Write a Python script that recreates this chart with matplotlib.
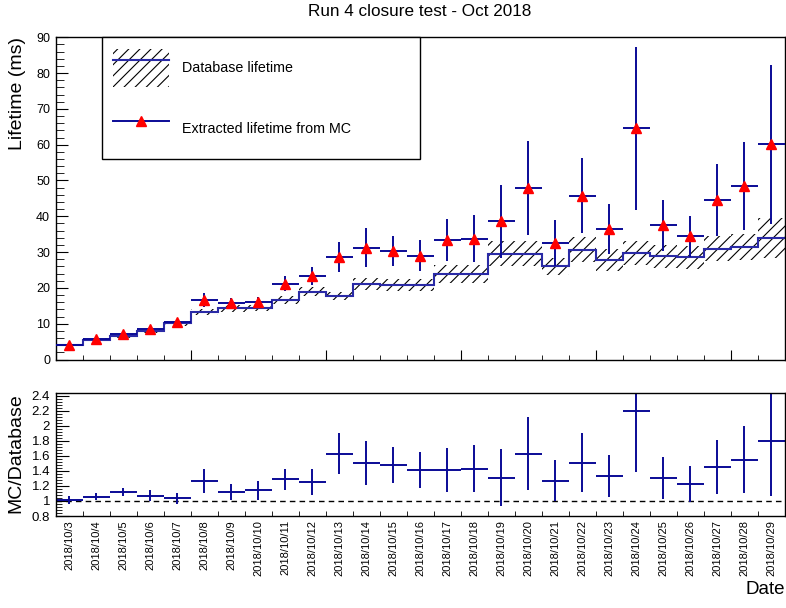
import numpy as np
import matplotlib
matplotlib.use('Agg')
import matplotlib.pyplot as plt
from matplotlib.patches import Patch
from matplotlib.lines import Line2D
from matplotlib.ticker import MultipleLocator, FuncFormatter

plt.rcParams['font.family'] = ['Liberation Sans', 'DejaVu Sans']
plt.rcParams['hatch.linewidth'] = 0.8
plt.rcParams['axes.linewidth'] = 1.0

# one bin per day
dates = ['2018/10/3', '2018/10/4', '2018/10/5', '2018/10/6', '2018/10/7',
         '2018/10/8', '2018/10/9', '2018/10/10', '2018/10/11', '2018/10/12',
         '2018/10/13', '2018/10/14', '2018/10/15', '2018/10/16', '2018/10/17',
         '2018/10/18', '2018/10/19', '2018/10/20', '2018/10/21', '2018/10/22',
         '2018/10/23', '2018/10/24', '2018/10/25', '2018/10/26', '2018/10/27',
         '2018/10/28', '2018/10/29']

# database lifetime (ms) and its uncertainty
db_lifetime = [4.05, 5.5, 6.5, 8.05, 10.1, 13.35, 14.3, 14.4, 16.6, 18.9,
               17.7, 21.0, 20.9, 20.8, 24.0, 23.8, 29.6, 29.6, 26.0, 30.7,
               27.8, 29.8, 28.8, 28.5, 31.0, 31.4, 34.0]
db_error = [0.3, 0.4, 0.5, 0.6, 0.7, 0.8, 0.9, 0.9, 1.0, 1.3,
            1.2, 1.7, 1.7, 1.7, 2.5, 2.5, 3.6, 3.6, 2.3, 3.4,
            3.1, 3.4, 3.3, 3.2, 3.4, 3.6, 5.6]

# lifetime extracted from MC (ms)
mc_lifetime = [4.0, 5.6, 7.0, 8.4, 10.4, 16.7, 15.9, 16.0, 21.2, 23.3,
               28.6, 31.2, 30.3, 29.0, 33.4, 33.7, 38.6, 47.9, 32.6, 45.8,
               36.5, 64.6, 37.5, 34.4, 44.6, 48.5, 60.1]
mc_error = [0.2, 0.25, 0.3, 0.4, 0.5, 2.0, 1.2, 1.4, 2.1, 2.55,
            4.1, 5.5, 4.2, 4.3, 5.8, 6.6, 10.2, 13.0, 6.5, 10.6,
            7.0, 22.8, 7.1, 5.7, 10.0, 12.2, 22.2]

# MC / database
ratio = [1.01, 1.057, 1.12, 1.07, 1.035, 1.27, 1.12, 1.14, 1.29, 1.25,
         1.63, 1.50, 1.475, 1.41, 1.41, 1.43, 1.31, 1.63, 1.27, 1.51,
         1.33, 2.20, 1.31, 1.22, 1.45, 1.55, 1.79]
ratio_error = [0.05, 0.05, 0.05, 0.07, 0.07, 0.16, 0.11, 0.13, 0.14, 0.17,
               0.27, 0.29, 0.24, 0.24, 0.29, 0.31, 0.38, 0.48, 0.27, 0.39,
               0.28, 0.82, 0.28, 0.24, 0.36, 0.44, 0.72]

blue = '#0a0a96'
n = len(dates)
edges = np.arange(n + 1)
centers = edges[:-1] + 0.5
db = np.array(db_lifetime)
dbe = np.array(db_error)
lo = db - dbe
hi = db + dbe

fig = plt.figure(figsize=(7.86, 6.08), dpi=100)
ax = fig.add_axes([0.0709, 0.4087, 0.9278, 0.5300])
rax = fig.add_axes([0.0709, 0.1513, 0.9278, 0.2018])

# --- upper pad: lifetimes ---
ax.fill_between(edges, np.append(lo, lo[-1]), np.append(hi, hi[-1]), step='post',
                facecolor='none', edgecolor='black', hatch='///', linewidth=0)
ax.stairs(db, edges, baseline=None, color='#2a2aa6', linewidth=1.5)
ax.errorbar(centers, mc_lifetime, xerr=0.5, yerr=mc_error, fmt='^', color='red',
            ms=7.5, ecolor=blue, elinewidth=1.4, capsize=0, zorder=3)

ax.set_xlim(0, n)
ax.set_ylim(0, 90)
ax.xaxis.set_major_locator(MultipleLocator(5))
ax.xaxis.set_minor_locator(MultipleLocator(1))
ax.yaxis.set_major_locator(MultipleLocator(10))
ax.yaxis.set_minor_locator(MultipleLocator(2))
ax.tick_params(axis='x', which='both', direction='in', labelbottom=False)
ax.tick_params(axis='x', which='major', length=7)
ax.tick_params(axis='x', which='minor', length=3.6)
ax.tick_params(axis='y', which='both', direction='in', labelsize=9, pad=4)
ax.tick_params(axis='y', which='major', length=8.6)
ax.tick_params(axis='y', which='minor', length=5.8)
ax.set_ylabel('Lifetime (ms)', fontsize=14, loc='top')
ax.yaxis.set_label_coords(-0.041, 1.0)

db_handle = (Patch(facecolor='none', edgecolor='black', hatch='///', linewidth=0),
             Line2D([], [], color='#2a2aa6', lw=1.5))
mc_handle = Line2D([], [], color=blue, lw=1.4, marker='^', mfc='red', mec='red', ms=7.5)
leg = ax.legend([db_handle, mc_handle], ['Database lifetime', 'Extracted lifetime from MC'],
                loc='upper left', bbox_to_anchor=(0.0631, 0, 0.4364, 1.0), mode='expand',
                borderaxespad=0, fancybox=False, edgecolor='black', framealpha=1,
                fontsize=10.3, handlelength=3.9, handleheight=3.72, labelspacing=1.6,
                borderpad=0.8, handletextpad=0.9)
leg.get_frame().set_linewidth(1.0)

fig.text(0.534, 1 - 12 / 608, 'Run 4 closure test - Oct 2018', ha='center', va='center',
         fontsize=12.3)

# --- lower pad: ratio ---
rax.axhline(1.0, color='black', lw=1.0, ls=(0, (4, 3)))
rax.errorbar(centers, ratio, xerr=0.5, yerr=ratio_error, fmt='none', ecolor=blue,
             elinewidth=1.4, capsize=0)
rax.set_xlim(0, n)
rax.set_ylim(0.8, 2.43)
rax.set_xticks(centers)
rax.set_xticklabels(dates, rotation=90, fontsize=8)
rax.xaxis.set_minor_locator(MultipleLocator(1))
rax.tick_params(axis='x', which='major', length=0, pad=3)
rax.tick_params(axis='x', which='minor', direction='in', length=3.6)
rax.yaxis.set_major_locator(MultipleLocator(0.2))
rax.yaxis.set_minor_locator(MultipleLocator(0.04))
rax.yaxis.set_major_formatter(FuncFormatter(lambda v, p: '%g' % round(v, 2)))
rax.tick_params(axis='y', which='both', direction='in', labelsize=9.5, pad=4)
rax.tick_params(axis='y', which='major', length=9.4)
rax.tick_params(axis='y', which='minor', length=4.3)
rax.set_ylabel('MC/Database', fontsize=14, loc='top')
rax.yaxis.set_label_coords(-0.043, 1.0)
rax.set_xlabel('Date', fontsize=13.5, loc='right')
rax.xaxis.set_label_coords(1.0, -0.53)

fig.savefig('out.png', dpi=100)
